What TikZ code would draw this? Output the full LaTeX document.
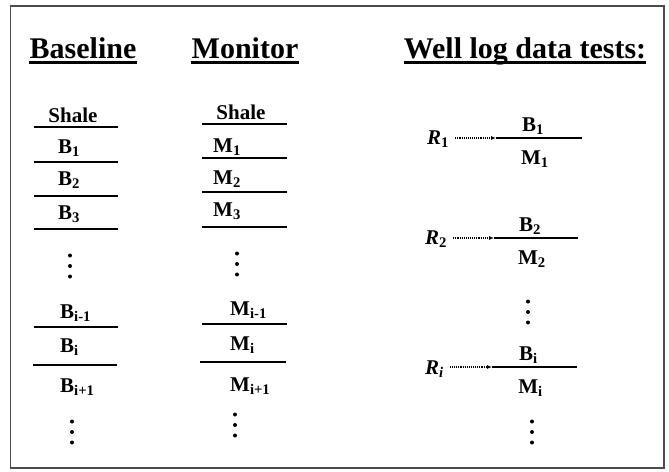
\documentclass[tikz,border=0pt]{standalone}
\usepackage{fontspec}
\setmainfont{Liberation Serif}
\usetikzlibrary{arrows.meta,calc}

\tikzset{
  title/.style={inner sep=0pt,anchor=base,font=\fontsize{30}{36}\selectfont\bfseries},
  layer/.style={inner sep=0pt,anchor=base west,font=\fontsize{21}{25}\selectfont\bfseries},
  bed/.style={line width=2.2pt},
  uline/.style={line width=2.8pt},
  dotarrow/.style={densely dotted,line width=1.1pt,shorten <=6pt,-{Latex[length=5pt,width=4pt]}},
  vdotsthree/.pic={\foreach\k in {-1,0,1} \fill (0,{\k*10.5}) circle (2pt);}
}

\begin{document}
\begin{tikzpicture}[x=1pt,y=-1pt,line cap=butt]
\useasboundingbox (0,0) rectangle (669,471);
\draw[black!70,line width=1.2pt] (10.5,6) rectangle (664,468);
% titles
\node[title] (tbase) at (83,58)  {Baseline};
\node[title] (tmon)  at (245,58) {Monitor};
\node[title] (twell) at (525,58) {Well log data tests:};
\foreach\t in {tbase,tmon,twell}
  \draw[uline] ([yshift=-4.5pt]\t.base west) -- ([yshift=-4.5pt]\t.base east);
% baseline column
\node[layer,anchor=base] (bsh) at (73,122) {Shale};
\foreach\n/\lab/\xx/\yy in {b1/{B\textsubscript{1}}/58/153,b2/{B\textsubscript{2}}/58/185,
    b3/{B\textsubscript{3}}/58/219,bim/{B\textsubscript{i-1}}/60/318,
    bi/{B\textsubscript{i}}/60/352,bip/{B\textsubscript{i+1}}/60/392}
  \node[layer] (\n) at (\xx,\yy) {\lab};
\foreach\yy in {127,162,196,229,327}
  \draw[bed] (34,\yy) -- (118,\yy);
\draw[bed] (33,365) -- (117,365);
\pic at (70,266) {vdotsthree};
\pic at (72,432) {vdotsthree};
% monitor column
\node[layer,anchor=base] (msh) at (241,119) {Shale};
\foreach\n/\lab/\xx/\yy in {m1/{M\textsubscript{1}}/213/152,m2/{M\textsubscript{2}}/213/184,
    m3/{M\textsubscript{3}}/213/216,mim/{M\textsubscript{i-1}}/230/315,
    mi/{M\textsubscript{i}}/230/350,mip/{M\textsubscript{i+1}}/230/391}
  \node[layer] (\n) at (\xx,\yy) {\lab};
\foreach\yy in {124,158,192,227,324}
  \draw[bed] (202,\yy) -- (287,\yy);
\draw[bed] (200,362) -- (286,362);
\pic at (237,264) {vdotsthree};
\pic at (235,425) {vdotsthree};
% well log data tests
\foreach\n/\lab/\rx/\ry/\la/\lb/\ly/\sb/\sm in {1/{R\textsubscript{\upshape 1}}/427/144/496/582/138/1/1,
    2/{R\textsubscript{\upshape 2}}/425/244/494/578/238/2/2,
    i/{R\textsubscript{i}}/425/374/492/577/367/i/i}
{%
  \node[layer,font=\fontsize{21}{25}\selectfont\bfseries\itshape] (r\n) at (\rx,\ry) {\lab};
  \coordinate (l\n) at (\la,\ly);
  \coordinate (l\n e) at (\lb,\ly);
  \draw[bed] (l\n) -- (l\n e);
  \node[layer,anchor=base] (fb\n) at ($(l\n)!0.5!(l\n e)+(-6,-7)$) {B\textsubscript{\sb}};
  \node[layer,anchor=base] (fm\n) at ($(l\n)!0.5!(l\n e)+(-4,26)$) {M\textsubscript{\sm}};
  \draw[dotarrow] (r\n.east |- l\n) -- (l\n);
}
\pic at (528,312) {vdotsthree};
\pic at (532,432) {vdotsthree};
\end{tikzpicture}
\end{document}
